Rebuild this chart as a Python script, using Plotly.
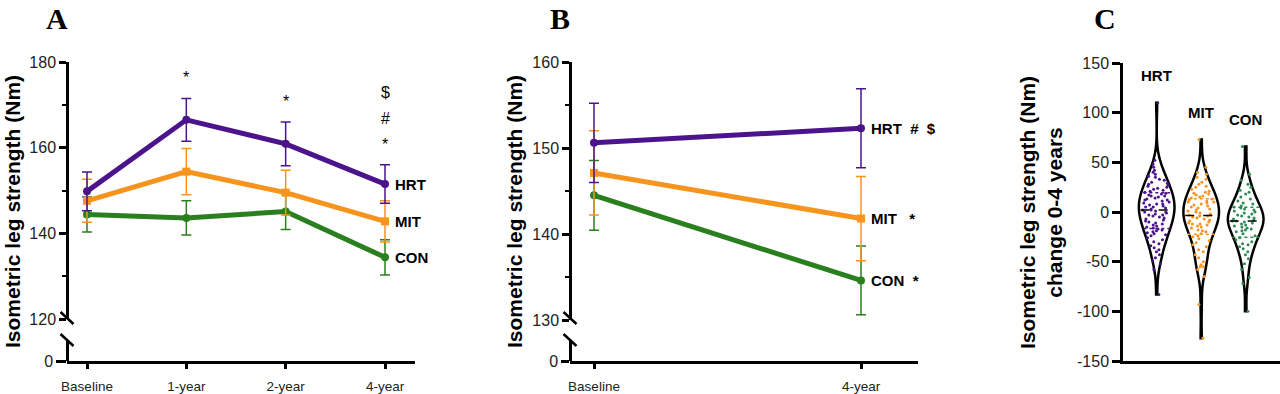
import plotly.graph_objects as go
import numpy as np

W, H = 1280, 394

# ---------------- data ----------------
timepoints_A = ["Baseline", "1-year", "2-year", "4-year"]
hrt_A = [149.8, 166.5, 160.9, 151.5]
hrt_A_se = [4.5, 5.0, 5.1, 4.5]
mit_A = [147.6, 154.4, 149.5, 142.8]
mit_A_se = [5.0, 5.4, 5.2, 4.8]
con_A = [144.4, 143.6, 145.1, 134.4]
con_A_se = [4.1, 4.0, 4.2, 4.1]
signif_A = [[], ["*"], ["*"], ["*", "#", "$"]]

timepoints_B = ["Baseline", "4-year"]
hrt_B = [150.6, 152.3]
hrt_B_se = [4.6, 4.6]
mit_B = [147.1, 141.8]
mit_B_se = [4.9, 4.9]
con_B = [144.5, 134.6]
con_B_se = [4.05, 4.0]
labels_B = ["HRT\u00a0\u00a0#\u00a0\u00a0$", "MIT\u00a0\u00a0\u00a0*", "CON\u00a0\u00a0*"]

groups_C = ["HRT", "MIT", "CON"]
hrt_C = [110, 52, 48, 45, 42, 40, 38, 36, 35, 33, 32, 30, 29, 28, 27, 26, 25, 24, 23, 22,
         21, 20, 19, 18, 17, 16, 16, 15, 14, 13, 12, 12, 11, 10, 9, 8, 8, 7, 6, 5, 5, 4, 3,
         2, 2, 1, 0, 0, -1, -2, -3, -3, -4, -5, -6, -7, -8, -9, -10, -11, -12, -13, -14,
         -15, -16, -17, -18, -19, -20, -21, -22, -23, -24, -26, -28, -30, -32, -34, -36,
         -38, -40, -43, -46, -49, -52, -58, -83]
mit_C = [73, 45, 40, 38, 35, 33, 30, 28, 26, 25, 23, 21, 20, 19, 18, 17, 16, 15, 14, 13,
         12, 11, 10, 10, 9, 8, 7, 6, 5, 4, 3, 2, 1, 0, -1, -2, -3, -3, -4, -4, -5, -6, -7,
         -8, -9, -10, -11, -12, -12, -13, -14, -15, -16, -18, -19, -20, -22, -24, -25, -27,
         -29, -31, -33, -35, -38, -40, -43, -46, -50, -53, -55, -55, -58, -65, -93, -127]
con_C = [66, 38, 32, 28, 25, 22, 20, 18, 15, 13, 11, 9, 8, 6, 5, 4, 3, 2, 1, 0, -1, -2,
         -3, -4, -5, -6, -7, -8, -9, -9, -10, -11, -12, -13, -14, -15, -16, -17, -18, -19,
         -20, -22, -24, -26, -28, -30, -32, -33, -35, -37, -40, -43, -47, -52, -58, -66,
         -72, -100]

PURPLE = "#4B148C"
ORANGE = "#F7941D"
GREEN = "#2A7F1E"
GREEN_C = "#2E8B57"

SANS = "Liberation Sans, Arial, sans-serif"
SERIF = "Liberation Serif, Times New Roman, serif"


def px(x):
    return x / W


def py(y):
    return 1 - y / H


fig = go.Figure()

# ---------------- Panel A ----------------
series_A = [("CON", con_A, con_A_se, GREEN, "circle"),
            ("MIT", mit_A, mit_A_se, ORANGE, "square"),
            ("HRT", hrt_A, hrt_A_se, PURPLE, "circle")]
for name, vals, se, col, sym in series_A:
    fig.add_trace(go.Scatter(
        x=timepoints_A, y=vals, mode="lines+markers", name=name,
        line=dict(color=col, width=5), marker=dict(color=col, size=8, symbol=sym),
        error_y=dict(type="data", array=se, color=col, thickness=1.5, width=5),
        xaxis="x", yaxis="y", showlegend=False, cliponaxis=False))
    fig.add_annotation(x=timepoints_A[-1], y=vals[-1], xref="x", yref="y", text=name,
                       showarrow=False, xanchor="left", xshift=8,
                       font=dict(family=SANS, size=15, color="black", weight="bold"))
fig.add_trace(go.Scatter(x=[], y=[], xaxis="x", yaxis="y2", showlegend=False))

# significance markers stacked above the HRT error bars
for tp, syms, v, se in zip(timepoints_A, signif_A, hrt_A, hrt_A_se):
    for k, s in enumerate(syms):
        fig.add_annotation(x=tp, y=v + se, xref="x", yref="y", text=s, showarrow=False,
                           yanchor="bottom", yshift=10 + 26 * k,
                           font=dict(family=SANS, size=16, color="black"))

# ---------------- Panel B ----------------
series_B = [("CON", con_B, con_B_se, GREEN, "circle", labels_B[2]),
            ("MIT", mit_B, mit_B_se, ORANGE, "square", labels_B[1]),
            ("HRT", hrt_B, hrt_B_se, PURPLE, "circle", labels_B[0])]
for name, vals, se, col, sym, lab in series_B:
    fig.add_trace(go.Scatter(
        x=timepoints_B, y=vals, mode="lines+markers", name=name,
        line=dict(color=col, width=5), marker=dict(color=col, size=8, symbol=sym),
        error_y=dict(type="data", array=se, color=col, thickness=1.5, width=5),
        xaxis="x3", yaxis="y3", showlegend=False, cliponaxis=False))
    fig.add_annotation(x=timepoints_B[-1], y=vals[-1], xref="x3", yref="y3", text=lab,
                       showarrow=False, xanchor="left", xshift=8,
                       font=dict(family=SANS, size=15, color="black", weight="bold"))
fig.add_trace(go.Scatter(x=[], y=[], xaxis="x3", yaxis="y4", showlegend=False))

# ---------------- Panel C ----------------
data_C = [hrt_C, mit_C, con_C]
cols_C = [PURPLE, ORANGE, GREEN_C]
for i, (g, vals, col) in enumerate(zip(groups_C, data_C, cols_C)):
    fig.add_trace(go.Violin(
        x=[i] * len(vals), y=vals, name=g, xaxis="x5", yaxis="y5",
        line=dict(color="black", width=2.5), fillcolor="white",
        points="all", pointpos=0, jitter=0.8,
        marker=dict(color=col, size=3),
        width=0.8, spanmode="hard", scalemode="width",
        box_visible=False, meanline_visible=False, showlegend=False, hoverinfo="skip"))
    q1, med, q3 = np.percentile(vals, [25, 50, 75])
    fig.add_trace(go.Scatter(x=[i - 0.36, i + 0.36], y=[med, med], mode="lines",
                             line=dict(color="black", width=1.5, dash="dash"),
                             xaxis="x5", yaxis="y5", showlegend=False))
    for q in (q1, q3):
        fig.add_trace(go.Scatter(x=[i - 0.3, i + 0.3], y=[q, q], mode="lines",
                                 line=dict(color=col, width=1.5, dash="dot"),
                                 xaxis="x5", yaxis="y5", showlegend=False))
    fig.add_annotation(x=i, y=max(vals), xref="x5", yref="y5", text=g, showarrow=False,
                       yanchor="middle", yshift=27,
                       font=dict(family=SANS, size=15, color="black", weight="bold"))

# ---------------- axes ----------------
tickfont_y = dict(family=SANS, size=16, color="#222")
tickfont_x = dict(family=SANS, size=13.5, color="#222")
common = dict(showgrid=False, zeroline=False, showline=True, linecolor="black",
              linewidth=2.5, ticks="outside", tickcolor="black", tickwidth=2.5,
              automargin=False)

fig.update_layout(
    template="none",
    width=W, height=H, margin=dict(l=0, r=0, t=0, b=0, pad=0, autoexpand=False),
    paper_bgcolor="white", plot_bgcolor="white", showlegend=False,
    violinmode="overlay",
    # Panel A
    xaxis=dict(domain=[px(67), px(415)], anchor="y2", type="category",
               categoryorder="array", categoryarray=timepoints_A,
               range=[-0.2013, 3.302], ticklen=5, tickfont=tickfont_x,
               ticklabelstandoff=6, **common),
    yaxis=dict(domain=[py(319), py(62)], anchor="free", position=px(67),
               range=[120, 180], tickvals=[120, 140, 160, 180], ticklen=7,
               minor=dict(tickvals=[130, 150, 170], ticklen=4, tickwidth=2,
                          tickcolor="black", ticks="outside"),
               tickfont=tickfont_y, **common),
    yaxis2=dict(domain=[py(361), py(341)], anchor="free", position=px(67),
                range=[0, 10], tickvals=[0], ticklen=10, tickfont=tickfont_y, **common),
    # Panel B
    xaxis3=dict(domain=[px(570), px(918)], anchor="y4", type="category",
                categoryorder="array", categoryarray=timepoints_B,
                range=[-0.0899, 1.2135], ticklen=5, tickfont=tickfont_x,
                ticklabelstandoff=6, **common),
    yaxis3=dict(domain=[py(320), py(62)], anchor="free", position=px(570),
                range=[130, 160], tickvals=[130, 140, 150, 160], ticklen=7,
                minor=dict(tickvals=[135, 145, 155], ticklen=4, tickwidth=2,
                           tickcolor="black", ticks="outside"),
                tickfont=tickfont_y, **common),
    yaxis4=dict(domain=[py(361), py(341)], anchor="free", position=px(570),
                range=[0, 10], tickvals=[0], ticklen=8, tickfont=tickfont_y, **common),
    # Panel C
    xaxis5=dict(domain=[px(1123), 1.0], anchor="y5", range=[-0.757, 2.771],
                showticklabels=False, showgrid=False, zeroline=False, showline=True,
                linecolor="black", linewidth=2.5, ticks="", automargin=False),
    yaxis5=dict(domain=[py(361), py(63)], anchor="x5", range=[-150, 150],
                tickvals=[-150, -100, -50, 0, 50, 100, 150],
                ticktext=["-150", "-100", "-50", "0", "50", "100", "150"],
                ticklen=8, tickfont=tickfont_y, **common),
)

# axis break marks
for xa in (67, 570):
    for yc in (318, 340):
        fig.add_shape(type="line", xref="paper", yref="paper",
                      x0=px(xa - 6.5), y0=py(yc - 6), x1=px(xa + 6.5), y1=py(yc + 6),
                      line=dict(color="black", width=2.5))

# y-axis titles
title_font = dict(family=SANS, size=21, color="black", weight="bold")
ytitle = "Isometric leg strength (Nm)"
for xc in (13, 515):
    fig.add_annotation(x=px(xc), y=py(212), xref="paper", yref="paper", text=ytitle,
                       textangle=-90, showarrow=False, xanchor="center", yanchor="middle",
                       font=title_font)
fig.add_annotation(x=px(1041), y=py(213), xref="paper", yref="paper",
                   text=ytitle + "<br>change 0-4 years", textangle=-90, showarrow=False,
                   xanchor="center", yanchor="middle", font=title_font)

# panel letters
for letter, xc in (("A", 57), ("B", 560), ("C", 1105)):
    fig.add_annotation(x=px(xc), y=py(19), xref="paper", yref="paper", text=letter,
                       showarrow=False, xanchor="center", yanchor="middle",
                       font=dict(family=SERIF, size=30, color="black", weight="bold"))

# remove the default 8px page margin so the figure sits at the window's top-left corner
fig.write_html("out.html", config={"displayModeBar": False},
               post_script="document.body.style.margin='0';")
